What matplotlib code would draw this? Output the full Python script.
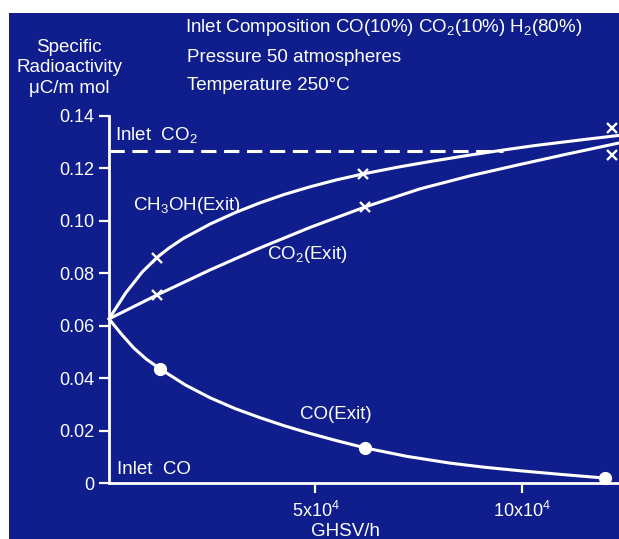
import matplotlib
matplotlib.use("Agg")
import matplotlib.pyplot as plt
from matplotlib.patches import Rectangle

plt.rcParams["font.family"] = ["Liberation Sans", "DejaVu Sans"]
plt.rcParams["mathtext.fontset"] = "custom"
plt.rcParams["mathtext.rm"] = "Liberation Sans"
plt.rcParams["mathtext.it"] = "Liberation Sans"
plt.rcParams["mathtext.default"] = "regular"

BG = "#0f1e8c"
FG = "white"

# GHSV (1/h) sample points along each hand-drawn curve
ch3oh_x = [0, 0.4e4, 0.8e4, 1.16e4, 1.45e4, 1.8e4, 2.45e4, 3.05e4, 3.66e4,
           4.25e4, 4.87e4, 5.5e4, 6.15e4, 7.0e4, 7.8e4, 8.7e4, 9.54e4,
           10.3e4, 10.92e4, 11.6e4, 12.35e4]
ch3oh_y = [0.0626, 0.0724, 0.0804, 0.0860, 0.0896, 0.0933, 0.0988, 0.1031,
           0.1069, 0.1101, 0.1130, 0.1156, 0.1179, 0.1205, 0.1227, 0.1250,
           0.1270, 0.1287, 0.1299, 0.1312, 0.1326]

co2_x = [0, 1.16e4, 2.45e4, 3.66e4, 4.87e4, 6.2e4, 7.53e4, 8.75e4, 9.95e4,
         11.1e4, 12.35e4]
co2_y = [0.0626, 0.0717, 0.0813, 0.0897, 0.0975, 0.1053, 0.1122, 0.1172,
         0.1215, 0.1255, 0.1297]

co_x = [0, 0.3e4, 0.6e4, 0.9e4, 1.24e4, 1.85e4, 2.45e4, 3.05e4, 3.66e4,
        4.25e4, 4.87e4, 5.5e4, 6.2e4, 7.2e4, 8.25e4, 9.1e4, 10.0e4, 11.0e4,
        12.0e4]
co_y = [0.0626, 0.0568, 0.0515, 0.0473, 0.0435, 0.0374, 0.0325, 0.0284,
        0.0249, 0.0218, 0.0189, 0.0162, 0.0134, 0.0102, 0.0076, 0.0060,
        0.0046, 0.0032, 0.0019]

# measured points
ch3oh_pts_x = [1.16e4, 6.15e4, 12.18e4]
ch3oh_pts_y = [0.0857, 0.1177, 0.1355]
co2_pts_x = [1.16e4, 6.2e4, 12.18e4]
co2_pts_y = [0.0717, 0.1053, 0.1251]
co_pts_x = [1.24e4, 6.2e4, 12.0e4]
co_pts_y = [0.0435, 0.0134, 0.0019]

inlet_co2 = 0.1268
inlet_co2_end = 9.54e4

yticks = [0, 0.02, 0.04, 0.06, 0.08, 0.10, 0.12, 0.14]
ytick_labels = ["0", "0.02", "0.04", "0.06", "0.08", "0.10", "0.12", "0.14"]
xticks = [5e4, 10e4]
xtick_labels = ["5x10$^4$", "10x10$^4$"]

fig = plt.figure(figsize=(6.19, 5.39), dpi=100, facecolor="white")
fig.patches.append(Rectangle((9 / 619, 0), 1, (539 - 13) / 539,
                             transform=fig.transFigure, facecolor=BG,
                             edgecolor="none", zorder=-10))

ax = fig.add_axes([109 / 619, 56 / 539, 1 - 109 / 619, 367 / 539])
ax.set_facecolor("none")
ax.set_zorder(5)
ax.set_xlim(0, 12.35e4)
ax.set_ylim(0, 0.14)

kw = dict(color=FG, lw=2.2, solid_capstyle="round", solid_joinstyle="round",
          clip_on=False)
ax.plot(ch3oh_x, ch3oh_y, **kw)
ax.plot(co2_x, co2_y, **kw)
ax.plot(co_x, co_y, **kw)
ax.plot([0, inlet_co2_end], [inlet_co2, inlet_co2], color=FG, lw=2.2,
        linestyle=(0, (5, 2.5)))

ax.plot(ch3oh_pts_x, ch3oh_pts_y, "x", color=FG, ms=6.5, mew=1.7, clip_on=False)
ax.plot(co2_pts_x, co2_pts_y, "x", color=FG, ms=6.5, mew=1.7, clip_on=False)
ax.plot(co_pts_x, co_pts_y, "o", color=FG, ms=8.5, clip_on=False)

for side in ["top", "right"]:
    ax.spines[side].set_visible(False)
for side in ["left", "bottom"]:
    ax.spines[side].set_color(FG)
    ax.spines[side].set_linewidth(2)

ax.set_yticks(yticks)
ax.set_yticklabels(ytick_labels)
ax.set_xticks(xticks)
ax.set_xticklabels(xtick_labels)
ax.tick_params(colors=FG, labelcolor=FG, labelsize=13, length=7, width=1.6,
               direction="out")
ax.tick_params(axis="x", pad=6)

tkw = dict(color=FG, fontsize=13.5, va="center", ha="left")
ax.text(0.15e4, 0.1328, "Inlet  CO$_2$", **tkw)
ax.text(0.58e4, 0.1060, "CH$_3$OH(Exit)", **tkw)
ax.text(3.83e4, 0.0870, "CO$_2$(Exit)", **tkw)
ax.text(4.62e4, 0.0260, "CO(Exit)", **tkw)
ax.text(0.19e4, 0.0050, "Inlet  CO", **tkw)

fig.text(345 / 619, 1 - 531 / 539, "GHSV/h", color=FG, fontsize=13.5,
         ha="center", va="center")
fig.text(69 / 619, 1 - 68 / 539, "Specific\nRadioactivity\n\u03bcC/m mol",
         color=FG, fontsize=13.5, ha="center", va="center", linespacing=1.3)

hkw = dict(color=FG, fontsize=13.5, ha="left", va="center")
fig.text(185 / 619, 1 - 28 / 539,
         "Inlet Composition CO(10%) CO$_2$(10%) H$_2$(80%)", **hkw)
fig.text(187 / 619, 1 - 57 / 539, "Pressure 50 atmospheres", **hkw)
fig.text(187 / 619, 1 - 85 / 539, "Temperature 250\u00b0C", **hkw)

fig.savefig("out.png", dpi=100, facecolor=fig.get_facecolor())
